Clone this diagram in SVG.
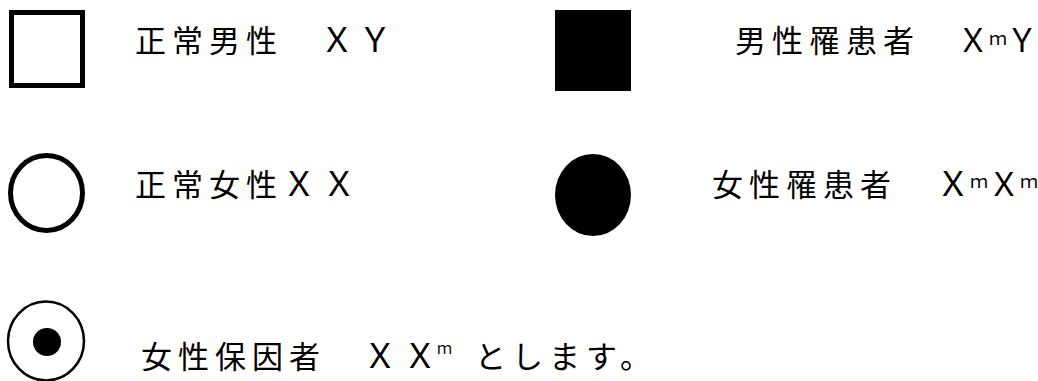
<svg xmlns="http://www.w3.org/2000/svg" width="1038" height="381" viewBox="0 0 1038 381">
<style>
.t{font-family:"Noto Sans CJK JP",sans-serif;font-size:31px;letter-spacing:6px;fill:#000}
.lat{font-family:"Liberation Serif","Noto Sans CJK JP",serif;font-size:34px;letter-spacing:0}
.lat2{font-family:"Liberation Serif","Noto Sans CJK JP",serif;font-size:32px;letter-spacing:0}
.sup{font-family:"Liberation Serif","Noto Sans CJK JP",serif;font-size:18px;letter-spacing:0}
.sup2{font-family:"Liberation Serif","Noto Sans CJK JP",serif;font-size:15px;letter-spacing:0}
.ol{fill:#fff;stroke:#000;stroke-width:5}
.thin{fill:#fff;stroke:#000;stroke-width:2.5}
.fill{fill:#000}
</style>
<rect width="1038" height="381" fill="#fff"/>
<g id="connectors"/>
<g id="normal-male">
<rect class="ol" x="11.5" y="12.5" width="71" height="73"/>
<text class="t" x="135" y="52">正常男性　<tspan class="lat" x="320">Ｘ</tspan><tspan class="lat" x="358">Ｙ</tspan></text>
</g>
<g id="affected-male">
<rect class="fill" x="555" y="10" width="76" height="81"/>
<text class="t" x="735" y="52">男性罹患者　<tspan class="lat2" x="957">Ｘ</tspan><tspan class="sup" x="989" y="45">ｍ</tspan><tspan class="lat2" x="1006" y="52">Ｙ</tspan></text>
</g>
<g id="normal-female">
<ellipse class="ol" cx="46.5" cy="193" rx="36" ry="37.5"/>
<text class="t" x="135" y="196">正常女性<tspan class="lat" x="282">Ｘ</tspan><tspan class="lat" x="322">Ｘ</tspan></text>
</g>
<g id="affected-female">
<ellipse class="fill" cx="593" cy="195" rx="38" ry="41"/>
<text class="t" x="712" y="196">女性罹患者　<tspan class="lat" x="936">Ｘ</tspan><tspan class="sup" x="970" y="188">ｍ</tspan><tspan class="lat2" x="988" y="196">Ｘ</tspan><tspan class="sup" x="1020" y="188">ｍ</tspan></text>
</g>
<g id="carrier-female">
<ellipse class="thin" cx="46" cy="341" rx="38" ry="39.5"/>
<circle class="fill" cx="47" cy="342" r="14"/>
<text class="t" x="141" y="368">女性保因者　<tspan class="lat" x="363">Ｘ</tspan><tspan class="lat" x="403">Ｘ</tspan><tspan class="sup2" x="437" y="354">ｍ</tspan><tspan x="475" y="368">とします。</tspan></text>
</g>
</svg>
